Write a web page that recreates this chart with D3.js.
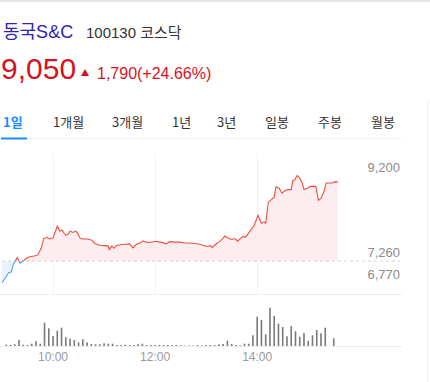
<!DOCTYPE html>
<html><head><meta charset="utf-8">
<script src="https://cdn.jsdelivr.net/npm/d3@7"></script>
<style>
html,body{margin:0;padding:0;background:#fff;}
svg{display:block;}
</style></head>
<body>
<script>
// ---- data ----
const stockName = "동국S&C";
const stockCode = "100130";
const market = "코스닥";
const lastPrice = 9050;
const prevClose = 7260;
const change = 1790;
const changePct = "+24.66%";
const tabs = ["1일","1개월","3개월","1년","3년","일봉","주봉","월봉"];
const yTickValues = [9200, 7260, 6770];
const xTickLabels = ["10:00","12:00","14:00"];

const priceTimes = ["09:00","09:05","09:08","09:11","09:13","09:15","09:18","09:21","09:25","09:29","09:33","09:39","09:42","09:46","09:49","09:53","09:56","10:00","10:02","10:05","10:08","10:11","10:13","10:15","10:18","10:20","10:23","10:27","10:29","10:32","10:36","10:40","10:43","10:46","10:49","10:55","11:01","11:05","11:06","11:09","11:12","11:14","11:19","11:25","11:30","11:34","11:38","11:42","11:46","11:49","11:54","12:01","12:06","12:13","12:17","12:23","12:29","12:35","12:41","12:47","12:53","12:56","13:01","13:05","13:07","13:13","13:16","13:20","13:22","13:26","13:30","13:34","13:37","13:43","13:46","13:49","13:53","13:56","14:01","14:05","14:08","14:10","14:13","14:16","14:20","14:22","14:26","14:29","14:33","14:36","14:40","14:42","14:44","14:47","14:50","14:53","14:55","14:59","15:02","15:06","15:09","15:12","15:15","15:19","15:21","15:27","15:29","15:31","15:35"];
const prices = [6770,6910,7000,7010,7170,7240,7340,7210,7260,7330,7360,7380,7400,7550,7770,7800,7760,7780,7890,8050,7940,7960,7890,7850,7870,7940,7910,7940,7890,7770,7760,7760,7750,7730,7660,7620,7610,7600,7520,7600,7550,7610,7630,7640,7650,7560,7640,7670,7720,7690,7680,7710,7690,7650,7700,7690,7690,7670,7670,7660,7640,7620,7590,7610,7570,7670,7700,7780,7830,7780,7750,7770,7710,7820,7800,7870,7980,8050,8300,8120,8150,8120,8590,8640,8710,8940,8910,8800,8860,8880,8880,9090,9100,9200,9140,9020,8880,8910,8950,8960,8950,8640,8680,8860,9030,9030,9030,9060,9050];

// 5-minute volume (thousand shares), bars ending 09:05 ... 15:30
const volTimes = d3.range(78).map(i => { const m = 5*(i+1); return String(9+Math.floor(m/60)).padStart(2,"0")+":"+String(m%60).padStart(2,"0"); });
const volumes = [13,10,17,60,13,10,23,47,23,233,177,100,153,183,87,73,60,37,67,37,20,17,17,27,23,23,10,10,13,10,10,17,23,10,10,10,10,10,10,
 10,10,7,5,5,5,10,5,10,10,10,17,20,53,20,10,7,23,23,107,293,260,117,383,300,223,190,97,200,147,93,130,53,107,160,127,183,0,77];

// ---- drawing ----
const W = 430, H = 382;
const svg = d3.select("body").append("svg").attr("width", W).attr("height", H);
const toMin = t => { const [h,m] = t.split(":").map(Number); return (h-9)*60 + m; };

// top bar
svg.append("rect").attr("x",0).attr("y",0).attr("width",W).attr("height",2).attr("fill","#e6e6e6");
// right border
svg.append("line").attr("x1",427.5).attr("x2",427.5).attr("y1",100).attr("y2",H).attr("stroke","#f0f0f0");

// header
const krFont = "'Liberation Sans','Noto Sans CJK KR',sans-serif";
svg.append("text").attr("x",3).attr("y",38).attr("font-family",krFont).attr("font-size",18)
  .attr("fill","#2f22b8").text(stockName);
svg.append("text").attr("x",86).attr("y",38).attr("font-family",krFont).attr("font-size",15)
  .attr("fill","#333").text(stockCode + " " + market);
svg.append("text").attr("x",1).attr("y",79).attr("font-family","'Liberation Sans',sans-serif").attr("font-size",30)
  .attr("fill","#d7121f").text(d3.format(",")(lastPrice));
svg.append("path").attr("d","M81,76 L85,69 L89,76 Z").attr("fill","#d7121f");
svg.append("text").attr("x",97).attr("y",79).attr("font-family","'Liberation Sans',sans-serif").attr("font-size",16)
  .attr("fill","#d7121f").text(d3.format(",")(change) + "(" + changePct + ")");

// tabs
const tabX = [3,53,112,172,217,265,318,371];
svg.selectAll("text.tab").data(tabs).join("text").attr("class","tab")
  .attr("x",(d,i)=>tabX[i]).attr("y",127).attr("font-family","'Noto Sans CJK KR',sans-serif").attr("font-size",13)
  .attr("font-weight",(d,i)=>i===0?700:400).attr("fill",(d,i)=>i===0?"#1a8cff":"#333").text(d=>d);
svg.append("rect").attr("x",0).attr("y",138).attr("width",402).attr("height",1).attr("fill","#eef0f2");
svg.append("rect").attr("x",1).attr("y",137.5).attr("width",26).attr("height",2).attr("fill","#1a8cff");

// scales
const x = d3.scaleLinear().domain([0,395]).range([2,338]);
const y = d3.scaleLinear().domain([6770,9200]).range([282.7,175.5]);
const yv = d3.scaleLinear().domain([0,d3.max(volumes)]).range([346,307.7]);

// vertical grid
svg.selectAll("line.vg").data(xTickLabels).join("line").attr("class","vg")
  .attr("x1",d=>Math.round(x(toMin(d)))+0.5).attr("x2",d=>Math.round(x(toMin(d)))+0.5)
  .attr("y1",154).attr("y2",294).attr("stroke","#f2f2f2");
svg.append("line").attr("x1",0).attr("x2",402).attr("y1",294.5).attr("y2",294.5).attr("stroke","#eeeeee");

// price area/line split at previous close
const base = y(prevClose);
const pts = priceTimes.map((t,i)=>({m:toMin(t), p:prices[i]}));
const defs = svg.append("defs");
defs.append("clipPath").attr("id","above").append("rect").attr("x",0).attr("y",0).attr("width",W).attr("height",base);
defs.append("clipPath").attr("id","below").append("rect").attr("x",0).attr("y",base).attr("width",W).attr("height",H-base);
const area = d3.area().x(d=>x(d.m)).y0(base).y1(d=>y(d.p));
const line = d3.line().x(d=>x(d.m)).y(d=>y(d.p));
svg.append("path").datum(pts).attr("d",area).attr("fill","#fdedf0").attr("clip-path","url(#above)");
svg.append("path").datum(pts).attr("d",area).attr("fill","#e9f3fd").attr("clip-path","url(#below)");
svg.append("line").attr("x1",2).attr("x2",400).attr("y1",base).attr("y2",base)
  .attr("stroke","#d6d6d6").attr("stroke-dasharray","3,3");
svg.append("path").datum(pts).attr("d",line).attr("fill","none").attr("stroke","#f0503c").attr("stroke-width",1.1)
  .attr("clip-path","url(#above)");
svg.append("path").datum(pts).attr("d",line).attr("fill","none").attr("stroke","#4a9ff2").attr("stroke-width",1.1)
  .attr("clip-path","url(#below)");

// y labels
svg.selectAll("text.yl").data(yTickValues).join("text").attr("class","yl")
  .attr("x",400).attr("y",d=>y(d)-4).attr("text-anchor","end")
  .attr("font-family","'Liberation Sans',sans-serif").attr("font-size",13).attr("fill","#8c8c8c")
  .text(d=>d3.format(",")(d));

// volume
svg.append("line").attr("x1",0).attr("x2",402).attr("y1",346.5).attr("y2",346.5).attr("stroke","#eeeeee");
svg.selectAll("rect.vol").data(volumes).join("rect").attr("class","vol")
  .attr("x",(d,i)=>x(toMin(volTimes[i]))-0.8).attr("width",1.6)
  .attr("y",d=>yv(d)).attr("height",d=>346-yv(d)).attr("fill","#7a7a7a");

// x labels
svg.selectAll("text.xl").data(xTickLabels).join("text").attr("class","xl")
  .attr("x",d=>x(toMin(d))).attr("y",361).attr("text-anchor","middle")
  .attr("font-family","'Liberation Sans',sans-serif").attr("font-size",12).attr("fill","#9a9a9a").text(d=>d);
</script>
</body></html>
